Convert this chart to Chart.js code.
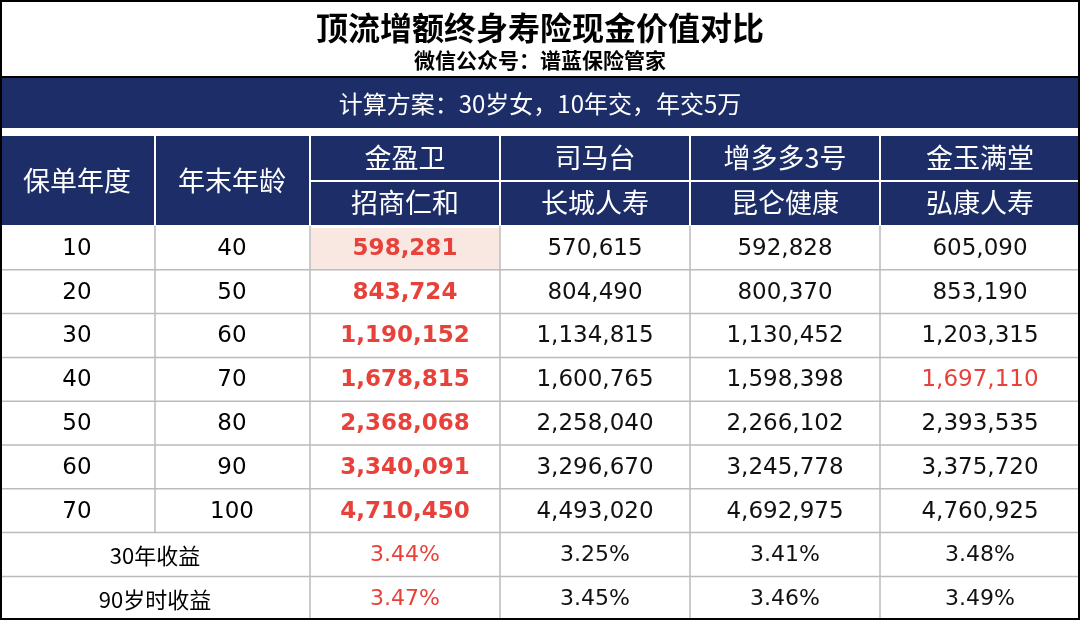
<!DOCTYPE html>
<html><head><meta charset="utf-8">
<script src="https://cdn.jsdelivr.net/npm/chart.js@4"></script>
<style>html,body{margin:0;padding:0;background:#fff}#w{width:1080px;height:620px}</style>
</head><body><div id="w"><canvas id="c"></canvas></div>
<script>
const title = "顶流增额终身寿险现金价值对比";
const subtitle = "微信公众号：谱蓝保险管家";
const plan = "计算方案：30岁女，10年交，年交5万";
const products = ["金盈卫","司马台","增多多3号","金玉满堂"];
const insurers = ["招商仁和","长城人寿","昆仑健康","弘康人寿"];
const years = ["10","20","30","40","50","60","70"];
const ages = ["40","50","60","70","80","90","100"];
const jinyingwei = ["598,281","843,724","1,190,152","1,678,815","2,368,068","3,340,091","4,710,450"];
const simatai = ["570,615","804,490","1,134,815","1,600,765","2,258,040","3,296,670","4,493,020"];
const zengduoduo = ["592,828","800,370","1,130,452","1,598,398","2,266,102","3,245,778","4,692,975"];
const jinyu = ["605,090","853,190","1,203,315","1,697,110","2,393,535","3,375,720","4,760,925"];
const sumLabels = ["30年收益","90岁时收益"];
const sum30 = ["3.44%","3.25%","3.41%","3.48%"];
const sum90 = ["3.47%","3.45%","3.46%","3.49%"];

const colX = [0,155,310,500,690,880,1080];
const NAVY="#1c2d68", RED="#e8413a";
const F='"Noto Sans CJK SC","Noto Sans",sans-serif';
const FN='"DejaVu Sans","Noto Sans CJK SC",sans-serif';

const tablePlugin = {id:'table', afterDraw(chart){
  const ctx=chart.ctx, xs=chart.scales.x, ys=chart.scales.y;
  const X=v=>xs.getPixelForValue(v), Y=v=>ys.getPixelForValue(v);
  const rect=(x0,y0,x1,y1,c)=>{ctx.fillStyle=c;ctx.fillRect(X(x0),Y(y0),X(x1)-X(x0),Y(y1)-Y(y0));};
  const text=(t,cx,cy,size,color,weight,fam)=>{ctx.font=(weight||'normal')+' '+size+'px '+(fam||F);ctx.fillStyle=color;ctx.textAlign='center';ctx.textBaseline='middle';ctx.fillText(t,X(cx),Y(cy));};
  ctx.save();
  text(title,540,28,32,'#000','bold');
  text(subtitle,540,60,21,'#000','bold');
  rect(0,78,1080,128,NAVY);
  text(plan,540,104,24,'#fff');
  rect(0,136,1080,225,NAVY);
  text("保单年度",77,181,27,'#fff');
  text("年末年龄",232,181,27,'#fff');
  for(let i=0;i<4;i++){const cx=(colX[i+2]+colX[i+3])/2;
    text(products[i],cx,158,27,'#fff'); text(insurers[i],cx,203,27,'#fff');}
  ctx.strokeStyle='#fff';ctx.lineWidth=2;ctx.beginPath();
  for(let i=1;i<6;i++){ctx.moveTo(X(colX[i]),Y(136));ctx.lineTo(X(colX[i]),Y(225));}
  ctx.moveTo(X(310),Y(181));ctx.lineTo(X(1080),Y(181));ctx.stroke();
  const r0=226, rh=43.8;
  rect(311,r0+2,499,r0+rh-1,'#f9e7e2');
  const cols=[jinyingwei,simatai,zengduoduo,jinyu];
  for(let r=0;r<7;r++){const cy=r0+rh*r+rh/2+1;
    text(years[r],77,cy,23,'#000','normal',FN); text(ages[r],232,cy,23,'#000','normal',FN);
    for(let i=0;i<4;i++){const red=i==0||(i==3&&r==3);
      text(cols[i][r],(colX[i+2]+colX[i+3])/2,cy,23,red?RED:'#111',(i==0)?'bold':'normal',FN);}}
  const sums=[sum30,sum90];
  for(let s=0;s<2;s++){const cy=r0+rh*(7+s)+rh/2+1;
    text(sumLabels[s],155,cy,22,'#000');
    for(let i=0;i<4;i++) text(sums[s][i],(colX[i+2]+colX[i+3])/2,cy,22,i==0?RED:'#111','normal',FN);}
  ctx.strokeStyle='#bbb';ctx.lineWidth=1.5;ctx.beginPath();
  for(let r=1;r<9;r++){const y=Y(r0+rh*r);ctx.moveTo(X(0),y);ctx.lineTo(X(1080),y);}
  for(let i=1;i<6;i++){const yEnd=(i==1)?r0+rh*7:620;ctx.moveTo(X(colX[i]),Y(r0));ctx.lineTo(X(colX[i]),Y(yEnd));}
  ctx.stroke();
  ctx.strokeStyle='#000';ctx.lineWidth=2;ctx.strokeRect(X(0)+1,Y(0)+1,X(1080)-2,Y(620)-2);
  ctx.beginPath();ctx.moveTo(X(0),Y(77));ctx.lineTo(X(1080),Y(77));ctx.stroke();
  ctx.restore();
}};

new Chart(document.getElementById('c'),{type:'scatter',data:{datasets:[{data:[]}]},
 options:{responsive:true,maintainAspectRatio:false,animation:false,layout:{padding:0},
  plugins:{legend:{display:false},tooltip:{enabled:false}},
  scales:{x:{type:'linear',min:0,max:1080,display:false},y:{type:'linear',min:0,max:620,reverse:true,display:false}}},
 plugins:[tablePlugin]});
</script></body></html>
